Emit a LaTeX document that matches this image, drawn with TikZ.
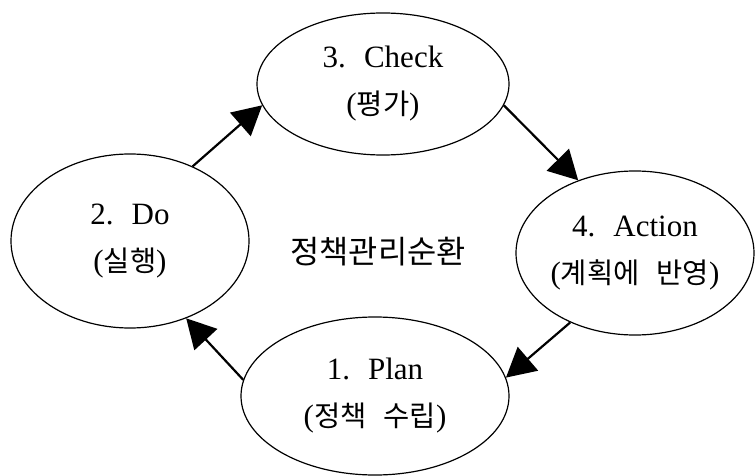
\documentclass[tikz,border=0pt]{standalone}
\usepackage{fontspec}
\setmainfont{Liberation Serif}
\newfontfamily\kr{Noto Sans CJK KR}[Scale=0.92]
\usetikzlibrary{shapes.geometric,arrows.meta}

\begin{document}
\begin{tikzpicture}[x=1pt, y=-1pt, font=\fontsize{31}{47}\selectfont,
    phase/.style={ellipse, draw, line width=1.2pt, inner sep=0pt, align=center},
    flow/.style={-{Triangle[length=29pt,width=31pt]}, line width=2.2pt}]
            \useasboundingbox (0,0) rectangle (755,476);
            \node[phase, minimum width=268pt, minimum height=158pt] (plan) at (375,396) {1.~ Plan \\ ({\kr 정책}\hspace{0.55em}{\kr 수립})};
            \node[phase, minimum width=238pt, minimum height=174pt] (do) at (130,241) {2.~ Do \\ ({\kr 실행})};
            \node[phase, minimum width=252pt, minimum height=142pt] (check) at (383,84) {3.~ Check \\ ({\kr 평가})};
            \node[phase, minimum width=238pt, minimum height=164pt, inner xsep=-6pt] (action) at (635,253) {4.~ Action \\ ({\kr 계획에}\hspace{0.55em}{\kr 반영})};
            \node[font=\fontsize{34.5}{40}\selectfont] (cycle) at (378,252) {\kr 정책관리순환};
            \draw[flow] (do.50) -- (check.190);
            \draw[flow] (check.350) -- (action.128);
            \draw[flow] (action.227) -- (plan.8);
            \draw[flow] (plan.173) -- (do.306);
        \end{tikzpicture}
\end{document}
